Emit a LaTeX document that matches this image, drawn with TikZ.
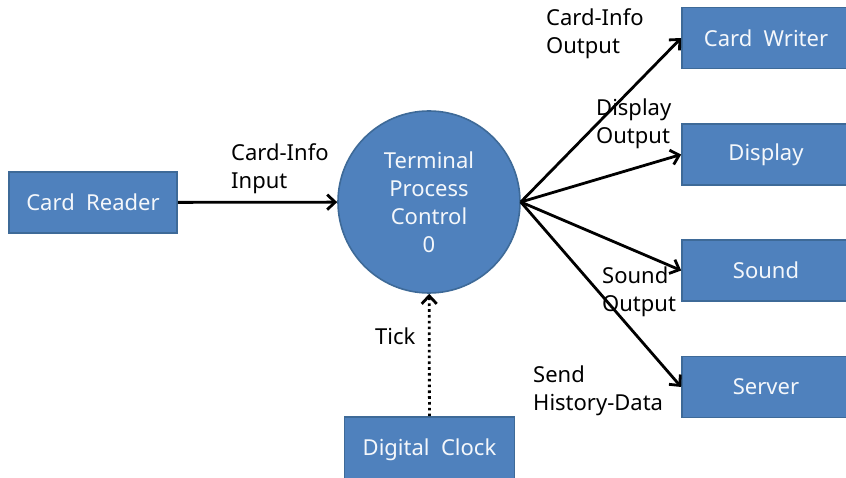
\documentclass[tikz,border=0pt]{standalone}
\usepackage{fontspec}
\setmainfont{Noto Sans}
\usepackage{xcolor}
\usepackage{tikz}
\usetikzlibrary{arrows.meta}
\definecolor{bg}{HTML}{FFFFFF}
\definecolor{unitfill}{HTML}{4F81BD}
\definecolor{unitline}{HTML}{3E6A98}
\definecolor{unittext}{HTML}{F4F7FB}
\definecolor{ink}{HTML}{000000}
\newcommand{\dfdFont}{\fontsize{22}{28}\selectfont}
\tikzset{
  unitBox/.style={draw=unitline, fill=unitfill, line width=1.6pt, minimum width=168pt, minimum height=61pt, inner sep=0pt, text=unittext, font=\dfdFont},
  procCirc/.style={circle, draw=unitline, fill=unitfill, line width=1.6pt, minimum size=182pt, inner sep=0pt, text=unittext, align=center, font=\dfdFont},
  flowArr/.style={draw=ink, line width=2.8pt, -{Straight Barb[length=8pt,width=15pt]}},
  tickArr/.style={flowArr, dash pattern=on 2.6pt off 3.2pt},
  flowLbl/.style={anchor=west, inner sep=0pt, align=left, text=ink, font=\dfdFont},
}
\newcommand{\DfdCoords}{%
  \coordinate (P) at (429,275);   % process centre
  \coordinate (R) at (93,274.5);
  \coordinate (K) at (429.5,27);  % runs off the bottom edge
  \coordinate (W) at (766,439);   % right boxes run off the right edge
  \coordinate (D) at (766,322.5);
  \coordinate (S) at (766,206.5);
  \coordinate (V) at (766,90);
}

\begin{document}
\begin{tikzpicture}[x=1pt, y=1pt]
  \useasboundingbox[fill=bg] (0,0) rectangle (846,477);
  \DfdCoords

  \node[procCirc] (proc) at (P) {Terminal\\Process\\Control\\0};
  \node[unitBox] (reader) at (R) {Card\ \ Reader};
  \node[unitBox, minimum width=170pt, minimum height=66pt] (clock) at (K) {Digital\ \ Clock};
  \node[unitBox] (writer) at (W) {Card\ \ Writer};
  \node[unitBox] (display) at (D) {Display};
  \node[unitBox] (sound) at (S) {Sound};
  \node[unitBox] (server) at (V) {Server};

  \draw[flowArr] (reader) -- (proc);
  \draw[tickArr] (clock) -- (proc);
  \draw[flowArr] (proc.east) -- (writer.west);
  \draw[flowArr] (proc.east) -- (display.west);
  \draw[flowArr] (proc.east) -- (sound.west);
  \draw[flowArr] (proc.east) -- (server.west);

  \node[flowLbl] (lblCardIn)  at (231,308) {Card-Info\\Input};
  \node[flowLbl] (lblTick)    at (375,141) {Tick};
  \node[flowLbl] (lblCardOut) at (546,443) {Card-Info\\Output};
  \node[flowLbl] (lblDisp)    at (596,353) {Display\\Output};
  \node[flowLbl] (lblSound)   at (602,185) {Sound\\Output};
  \node[flowLbl] (lblSend)    at (533,86)  {Send\\History-Data};
\end{tikzpicture}
\end{document}
